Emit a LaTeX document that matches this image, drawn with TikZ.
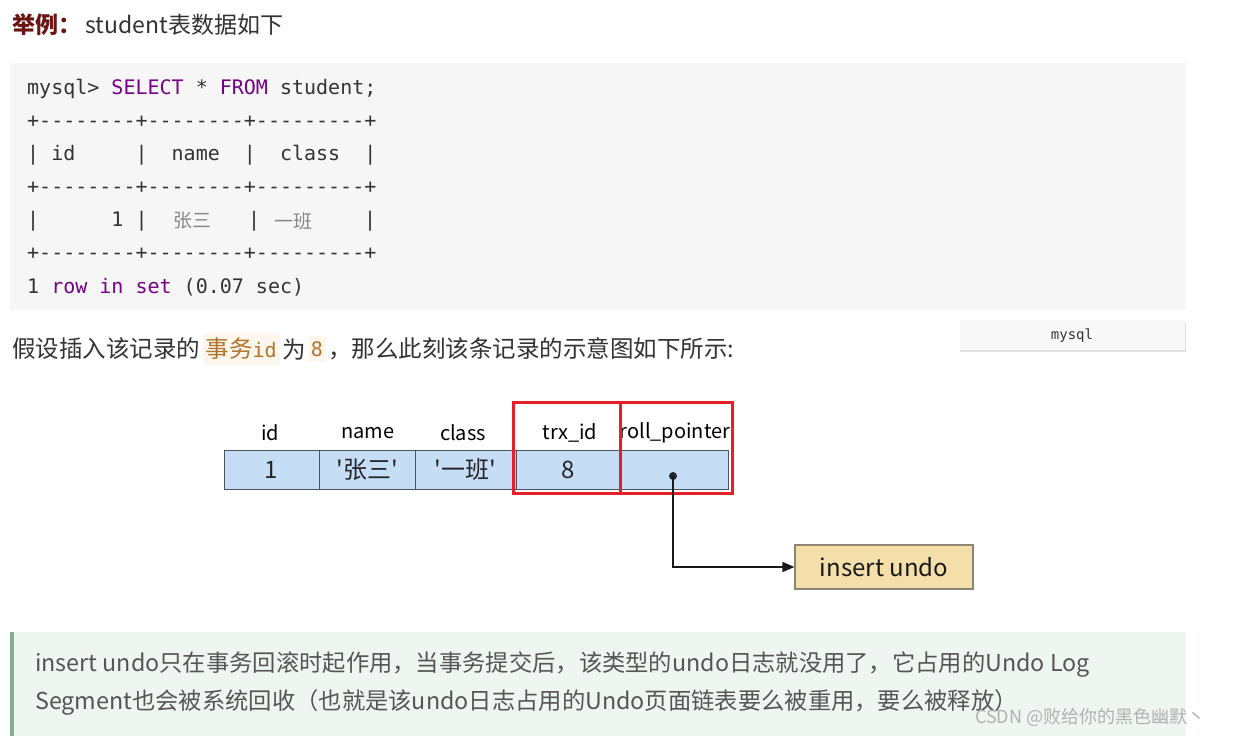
\documentclass[tikz,border=0pt]{standalone}
\usepackage{fontspec}
\setmainfont{Noto Sans CJK SC}
\newfontfamily\monof{DejaVu Sans Mono}
\newfontfamily\cjk{Noto Sans CJK SC}
\newfontfamily\cellf[Ligatures=TeXOff]{Noto Sans CJK SC}
\usetikzlibrary{arrows.meta}
\definecolor{txt}{HTML}{333333}
\definecolor{kw}{HTML}{770088}
\definecolor{cjkgray}{HTML}{888888}
\definecolor{codebg}{HTML}{F6F6F6}
\definecolor{tabbg}{HTML}{F8F8F8}
\definecolor{dotcol}{HTML}{1E2833}
\definecolor{inlinebg}{HTML}{FDF6EC}
\definecolor{inlinefg}{HTML}{B0742C}
\definecolor{titlered}{HTML}{6B1414}
\definecolor{cellfill}{HTML}{C6DDF6}
\definecolor{cellborder}{HTML}{4A5460}
\definecolor{redbox}{HTML}{E5202A}
\definecolor{undofill}{HTML}{F4DFAA}
\definecolor{undoborder}{HTML}{8C8474}
\definecolor{quotebg}{HTML}{EFF5F1}
\definecolor{quotebar}{HTML}{86AE93}
\definecolor{quotetxt}{HTML}{555555}
\tikzset{
  codeline/.style={anchor=west, inner sep=0pt, text=txt, font=\monof\fontsize{20}{24}\selectfont},
  plain/.style={anchor=west, inner sep=0pt, text=txt, font=\fontsize{23.5}{28}\selectfont},
  inl/.style={anchor=west, inner xsep=3pt, inner ysep=5pt, fill=inlinebg, text=inlinefg, font=\fontsize{23.5}{28}\selectfont},
  hdr/.style={inner sep=0pt, text=black, font=\fontsize{20}{24}\selectfont},
  cell/.style={draw=cellborder, line width=0.9pt, fill=cellfill, minimum height=39pt, inner sep=0pt, font=\cellf\fontsize{24}{28}\selectfont, text=black!85},
  redframe/.style={draw=redbox, line width=3pt, minimum height=91pt, inner sep=0pt},
  qtxt/.style={anchor=west, inner sep=0pt, text=quotetxt, font=\fontsize{23.3}{27}\selectfont},
}
\begin{document}
\begin{tikzpicture}[x=1pt,y=-1pt]
\useasboundingbox (0,0) rectangle (1233,736);
\fill[white] (0,0) rectangle (1233,736);
% title
\node[anchor=west, inner sep=0pt, text=titlered, font=\bfseries\fontsize{23}{28}\selectfont] (t1) at (12,25) {举例：};
\node[anchor=west, inner sep=0pt, text=txt, font=\fontsize{23}{28}\selectfont] (t2) at ([xshift=4pt]t1.east) {student表数据如下};
% code block
\fill[codebg] (10,63) rectangle (1186,310);
\node[codeline] (l1) at (27,89) {mysql> \textcolor{kw}{SELECT} * \textcolor{kw}{FROM} student;};
\node[codeline] (l2) at (27,122) {+--------+--------+---------+};
\node[codeline] (l3) at (27,155) {| id\ \ \ \ \ |\ \ name\ \ |\ \ class\ \ |};
\node[codeline] (l4) at (27,188) {+--------+--------+---------+};
\node[codeline] (l5a) at (27,221) {|\ \ \ \ \ \ 1 |};
\node[codeline, text=cjkgray, font=\cjk\fontsize{19}{24}\selectfont] (l5b) at (173,221) {张三};
\node[codeline] (l5c) at (248,221) {|};
\node[codeline, text=cjkgray, font=\cjk\fontsize{19}{24}\selectfont] (l5d) at (274,221) {一班};
\node[codeline] (l5e) at (364,221) {|};
\node[codeline] (l6) at (27,254) {+--------+--------+---------+};
\node[codeline] (l7) at (27,287) {1 \textcolor{kw}{row} \textcolor{kw}{in} \textcolor{kw}{set} (0.07 sec)};
% sentence
\node[plain] (s1) at (12,349) {假设插入该记录的};
\node[inl] (s2) at ([xshift=2pt]s1.east) {事务{\monof\fontsize{20}{24}\selectfont id}};
\node[plain] (s3) at ([xshift=2pt]s2.east) {为};
\node[inl, font=\monof\fontsize{20}{24}\selectfont] (s4) at ([xshift=2pt]s3.east) {8};
\node[plain] (s5) at ([xshift=2pt]s4.east) {，那么此刻该条记录的示意图如下所示:};
% mysql tab
\fill[black!12] (960,322) rectangle (1186,352);
\fill[tabbg] (960,320) rectangle (1185,350);
\node[inner sep=0pt, text=txt, font=\monof\fontsize{14}{16}\selectfont] (tab) at (1072,336) {mysql};
% diagram headers
\node[hdr] (h1) at (270,433) {id};
\node[hdr] (h2) at (368,433) {name};
\node[hdr] (h3) at (463,433) {class};
\node[hdr] (h4) at (570,433) {trx\_id};
\node[hdr] (h5) at (675,433) {roll\_pointer};
% cells
\node[cell, minimum width=95pt] (c1) at (271.5,469.5) {1};
\node[cell, minimum width=96pt] (c2) at (367,469.5) {'张三'};
\node[cell, minimum width=101pt] (c3) at (465.5,469.5) {'一班'};
\node[cell, minimum width=104pt] (c4) at (568,469.5) {8};
\node[cell, minimum width=108pt] (c5) at (674,469.5) {};
% red frames
\node[redframe, minimum width=107pt] (rb1) at (566.5,447.5) {};
\node[redframe, minimum width=112pt] (rb2) at (676,447.5) {};
% pointer
\node[circle, fill=dotcol, inner sep=0pt, minimum size=8pt] (dot) at (673,476) {};
\node[draw=undoborder, line width=1.2pt, fill=undofill, minimum width=178pt, minimum height=44pt, inner sep=0pt, font=\fontsize{24}{28}\selectfont, text=black!90] (undo) at (884,567) {insert undo};
\draw[line width=1.5pt, black!90, -{Triangle[length=12pt,width=10pt]}] (dot.center) |- (undo.west);
% quote
\fill[quotebg] (10,632) rectangle (1186,736);
\fill[quotebar] (10,632) rectangle (14,736);
\node[qtxt] (q1) at (35,665) {insert undo只在事务回滚时起作用，当事务提交后，该类型的undo日志就没用了，它占用的Undo Log};
\node[qtxt] (q2) at (35,702) {Segment也会被系统回收（也就是该undo日志占用的Undo页面链表要么被重用，要么被释放）};
\node[anchor=west, inner sep=0pt, text=black!30, font=\fontsize{18}{20}\selectfont] (wm) at (975,717) {CSDN @败给你的黑色幽默丶};
\end{tikzpicture}
\end{document}
